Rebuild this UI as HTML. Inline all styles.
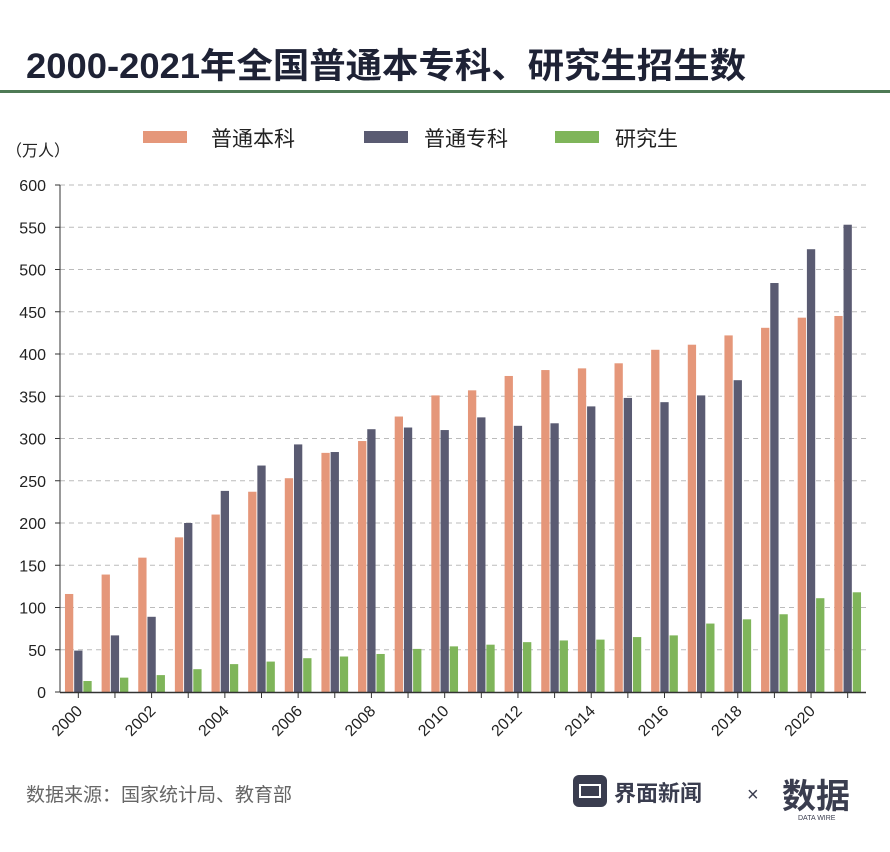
<!DOCTYPE html>
<html><head><meta charset="utf-8">
<style>
body{margin:0;background:#fff;font-family:"Liberation Sans","Noto Sans CJK SC",sans-serif;}
#wrap{position:relative;width:890px;height:852px;overflow:hidden;background:#fff;}
</style></head>
<body>
<div id="wrap">
<svg id="svg" width="890" height="852" xmlns="http://www.w3.org/2000/svg">
<text x="26" y="78" font-size="35" font-weight="bold" fill="#1e2235" textLength="720" lengthAdjust="spacingAndGlyphs" font-family="Liberation Sans, Noto Sans CJK SC, sans-serif">2000-2021年全国普通本专科、研究生招生数</text>
<rect x="0" y="90" width="890" height="3" fill="#4e7a55"/>
<text x="6" y="156" font-size="16" fill="#222">（万人）</text>
<g>
<rect x="143" y="131" width="44" height="12" fill="#e5977a"/>
<text x="211" y="146" font-size="21" fill="#222">普通本科</text>
<rect x="364" y="131" width="44" height="12" fill="#5a5b72"/>
<text x="424" y="146" font-size="21" fill="#222">普通专科</text>
<rect x="555" y="131" width="44" height="12" fill="#7fb55a"/>
<text x="615" y="146" font-size="21" fill="#222">研究生</text>
</g>
<g id="grid"></g><g id="bars"></g><g id="axes"></g>
<text x="26" y="801" font-size="19" fill="#666">数据来源：国家统计局、教育部</text>
<g>
<rect x="573" y="775" width="34" height="32" rx="6" fill="#3a3d4f"/>
<rect x="580" y="785" width="20" height="12" fill="none" stroke="#fff" stroke-width="2"/>
<text x="614" y="801" font-size="22" font-weight="bold" fill="#3a3d4f">界面新闻</text>
</g>
<text x="747" y="801" font-size="20" fill="#3a3d4f">×</text>
<g>
<text x="782" y="808" font-size="34" font-weight="bold" fill="#3a3d4f">数据</text>
<text x="798" y="820" font-size="7" fill="#3a3d4f">DATA WIRE</text>
</g>
</svg>
</div>
<script>
const years=["2000","2001","2002","2003","2004","2005","2006","2007","2008","2009","2010","2011","2012","2013","2014","2015","2016","2017","2018","2019","2020","2021"];
const bachelor=[116,139,159,183,210,237,253,283,297,326,351,357,374,381,383,389,405,411,422,431,443,445];
const junior=[49,67,89,200,238,268,293,284,311,313,310,325,315,318,338,348,343,351,369,484,524,553];
const graduate=[13,17,20,27,33,36,40,42,45,51,54,56,59,61,62,65,67,81,86,92,111,118];
const yTicks=[0,50,100,150,200,250,300,350,400,450,500,550,600];
const NS="http://www.w3.org/2000/svg";
const X0=60,X1=866,Y0=692,Y1=185,YMAX=600;
const gw=(X1-X0)/years.length;
function y(v){return Y0-(v/YMAX)*(Y0-Y1);}
function gx(i){return X0+gw*i+gw/2;}
function mk(tag,attrs,parent){const e=document.createElementNS(NS,tag);for(const k in attrs)e.setAttribute(k,attrs[k]);parent.appendChild(e);return e;}
const grid=document.getElementById('grid'),bars=document.getElementById('bars'),axes=document.getElementById('axes');
yTicks.forEach(t=>{
 if(t>0){const l=mk('line',{x1:X0,x2:X1,y1:y(t),y2:y(t),stroke:'#bbb','stroke-dasharray':'5,4','stroke-width':1},grid);
 
 }
 const tx=mk('text',{x:46,y:y(t)+6,'font-size':16,'text-anchor':'end',fill:'#222'},axes);
 tx.textContent=t;
 
 
 const tk=mk('line',{x1:X0-5,x2:X0,y1:y(t),y2:y(t),stroke:'#333'},axes);
 
 
});
const series=[[bachelor,'#e5977a','bachelor'],[junior,'#5a5b72','junior'],[graduate,'#7fb55a','graduate']];
const bw=8.3;
years.forEach((yr,i)=>{
 const c=gx(i);
 series.forEach((s,j)=>{
  const v=s[0][i];const x=c+(j-1)*(bw+0.9)-bw/2;
  const r=mk('rect',{x:x,y:y(v),width:bw,height:Y0-y(v),fill:s[1]},bars);
  
  
 });
 const tk=mk('line',{x1:c,x2:c,y1:Y0,y2:Y0+6,stroke:'#333'},axes);
 
 
 if(i%2===0){
  const t=mk('text',{x:c+5,y:Y0+20,'font-size':16,'text-anchor':'end',fill:'#222',transform:'rotate(-45 '+(c+5)+' '+(Y0+20)+')'},axes);
  t.textContent=yr;
  
  
 }
});
const ya=mk('line',{x1:X0,x2:X0,y1:Y1,y2:Y0,stroke:'#333','stroke-width':1},axes);


const xa=mk('line',{x1:X0,x2:X1,y1:Y0+0.5,y2:Y0+0.5,stroke:'#333','stroke-width':1.5},axes);


</script>
</body></html>
